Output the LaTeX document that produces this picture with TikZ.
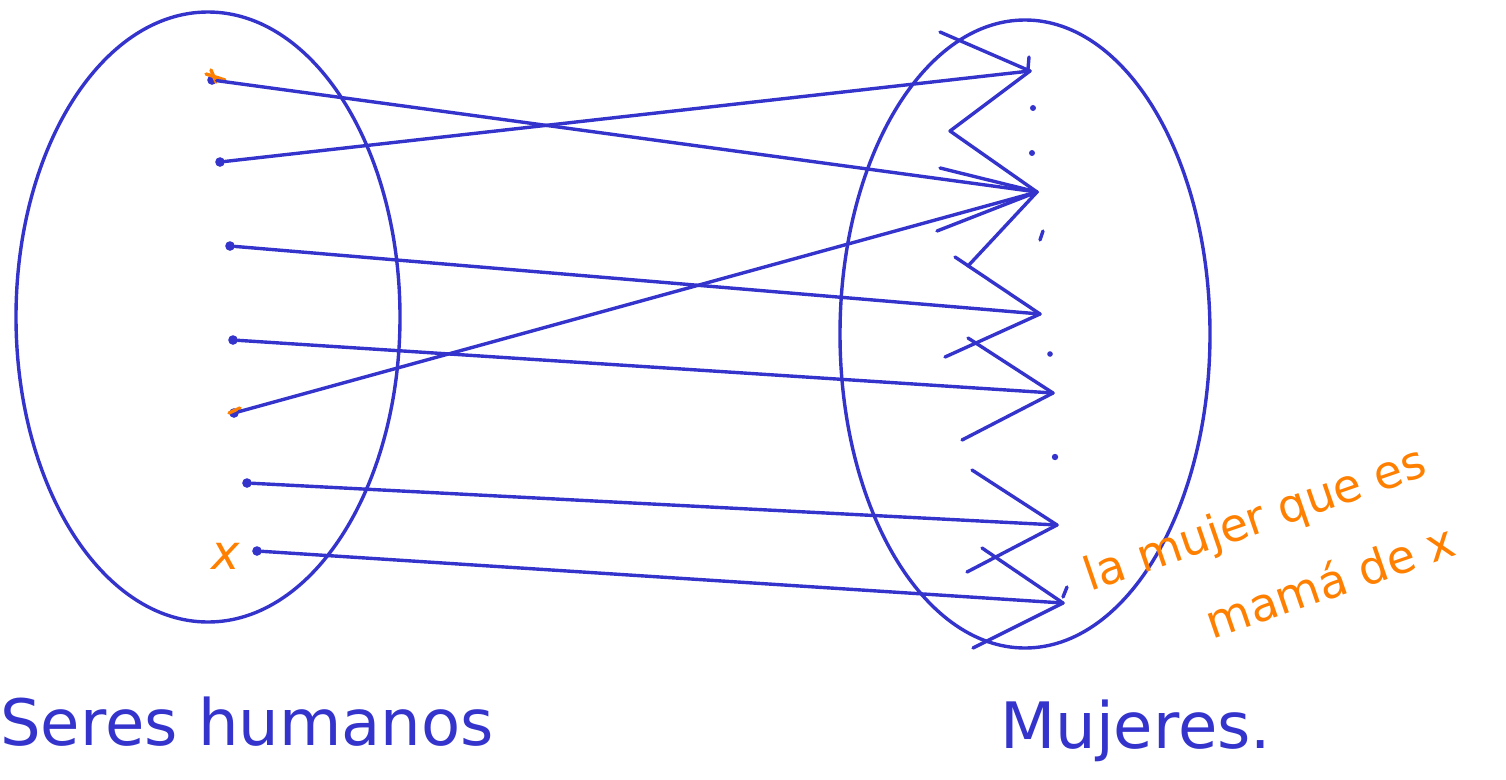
\documentclass[tikz,border=0pt]{standalone}
\usepackage{fontspec}
\setmainfont{DejaVu Sans}
\definecolor{ink}{RGB}{52,52,204}
\definecolor{hl}{RGB}{255,128,0}
\begin{document}
\begin{tikzpicture}[x=1pt,y=-1pt,
  stroke/.style={draw=ink,line width=3.4pt,line cap=round,line join=round},
  hstroke/.style={draw=hl,line width=3.4pt,line cap=round},
  pt/.style={circle,draw=ink,fill=ink,line width=1.5pt,inner sep=0pt,minimum size=8pt},
  mapline/.style={stroke},
  bigtext/.style={text=ink,font=\fontsize{64}{76}\selectfont,inner sep=0pt,anchor=base west},
  notetext/.style={text=hl,font=\fontsize{46}{85}\selectfont,inner sep=0pt,anchor=base west,align=left}]
\useasboundingbox (0,0) rectangle (1506,779);
% sets
\draw[stroke] (208,317) ellipse [x radius=192, y radius=305];
\draw[stroke] (1025,334) ellipse [x radius=185, y radius=314];
% domain points
\node[pt] (p1) at (212,80) {};
\node[pt] (p2) at (220,162) {};
\node[pt] (p3) at (230,246) {};
\node[pt] (p4) at (233,340) {};
\node[pt] (p5) at (234,413) {};
\node[pt] (p6) at (247,483) {};
\node[pt] (p7) at (257,551) {};
% orange marks
\draw[hstroke] (206,74) -- (225,80);
\draw[hstroke] (211,70) -- (216,82);
\draw[hstroke] (229,413) -- (240,408);
\node[text=hl,font=\fontsize{48}{54}\selectfont\itshape,inner sep=0pt] (xlab) at (226,556) {x};
% codomain points
\coordinate (A) at (1030,71);
\coordinate (B) at (1037,192);
\coordinate (C) at (1040,314);
\coordinate (D) at (1053,393);
\coordinate (E) at (1057,525);
\coordinate (F) at (1063,603);
% zigzag strokes
\coordinate (z1) at (940,32);
\coordinate (z2) at (950,131);
\coordinate (z3) at (940,168);
\coordinate (z4) at (937,231);
\coordinate (z5) at (968,266);
\coordinate (z6) at (955,257);
\coordinate (z7) at (945,357);
\coordinate (z8) at (968,338);
\coordinate (z9) at (962,440);
\coordinate (z10) at (972,470);
\coordinate (z11) at (967,572);
\coordinate (z12) at (982,548);
\coordinate (z13) at (973,648);
\draw[stroke] (z1) -- (A) -- (z2) -- (B);
\draw[stroke] (z3) -- (B);
\draw[stroke] (z4) -- (B) -- (z5);
\draw[stroke] (z6) -- (C) -- (z7);
\draw[stroke] (z8) -- (D) -- (z9);
\draw[stroke] (z10) -- (E) -- (z11);
\draw[stroke] (z12) -- (F) -- (z13);
% ticks and dots
\draw[stroke] (1029,57) -- (1028,69);
\draw[stroke] (1067,587) -- (1063,597);
\draw[stroke] (1040,240) -- (1043,231);
\fill[ink] (1033,108) circle (3pt);
\fill[ink] (1032,153) circle (3pt);
\fill[ink] (1050,354) circle (2.8pt);
\fill[ink] (1055,457) circle (3.2pt);
% mapping
\draw[mapline] (p1) -- (B);
\draw[mapline] (p2) -- (A);
\draw[mapline] (p3) -- (C);
\draw[mapline] (p4) -- (D);
\draw[mapline] (p5) -- (B);
\draw[mapline] (p6) -- (E);
\draw[mapline] (p7) -- (F);
% labels
\node[bigtext] (dom) at (0,745) {Seres humanos};
\node[bigtext] (cod) at (1000,748) {Mujeres.};
\node[notetext,rotate=19] (note) at (1118,672) {la mujer que es\\\hspace*{100pt}mamá de x};
\end{tikzpicture}
\end{document}
